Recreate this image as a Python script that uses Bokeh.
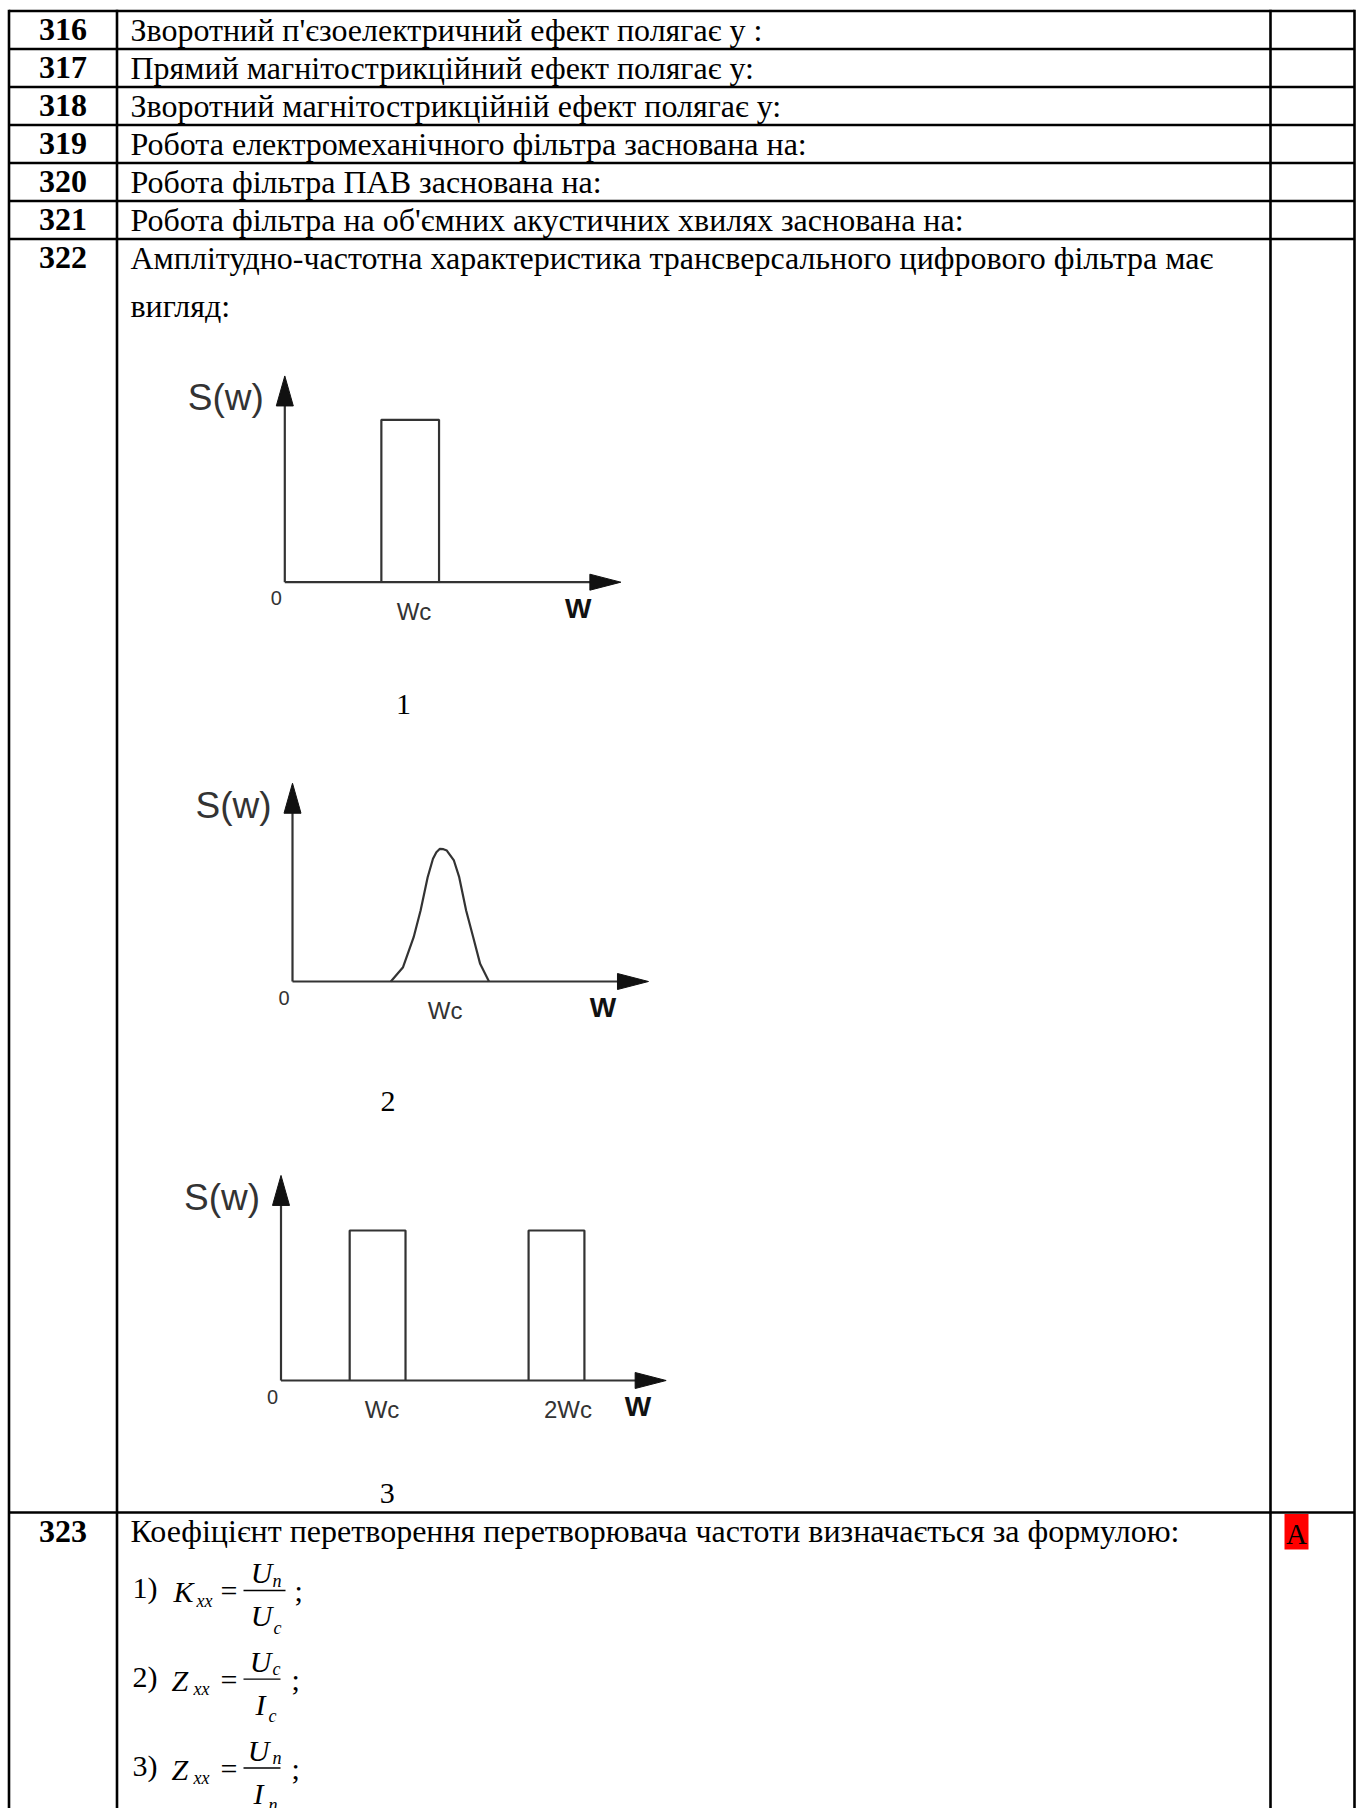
from bokeh.plotting import figure
from bokeh.models import Range1d
from bokeh.embed import file_html
from bokeh.resources import INLINE
from bokeh.core.properties import value

# ---------------- data ----------------
row_numbers = ["316", "317", "318", "319", "320", "321", "322", "323"]
row_texts = [
    "Зворотний п'єзоелектричний ефект полягає у :",
    "Прямий магнітострикційний ефект полягає у:",
    "Зворотний магнітострикційній ефект полягає у:",
    "Робота електромеханічного фільтра заснована на:",
    "Робота фільтра ПАВ заснована на:",
    "Робота фільтра на об'ємних акустичних хвилях заснована на:",
    "Амплітудно-частотна характеристика трансверсального цифрового фільтра має",
    "Коефіцієнт перетворення перетворювача частоти визначається за формулою:",
]
row322_line2 = "вигляд:"
answer_323 = "A"

figure_captions = ["1", "2", "3"]
y_axis_label = "S(w)"
x_axis_label = "W"
origin_label = "0"

# graph 1: one rectangular pass band (w in units of Wc, S normalised)
g1_bands = [(0.77, 1.23)]
g1_tick_labels = ["Wc"]
g1_tick_pos = [1.03]
g1_w_end, g1_s_end, g1_w_label = 2.68, 1.27, 2.34

# graph 2: bell-shaped response
g2_curve_w = [0.667, 0.75, 0.822, 0.869, 0.917, 0.953, 0.976, 1.0, 1.024,
              1.047, 1.095, 1.131, 1.178, 1.226, 1.273, 1.333]
g2_curve_s = [0.0, 0.108, 0.334, 0.535, 0.786, 0.925, 0.974, 1.0, 0.997,
              0.987, 0.912, 0.786, 0.535, 0.334, 0.133, 0.0]
g2_tick_labels = ["Wc"]
g2_tick_pos = [1.035]
g2_w_end, g2_s_end, g2_w_label = 2.415, 1.494, 2.107

# graph 3: two rectangular pass bands
g3_bands = [(0.711, 1.289), (2.563, 3.141)]
g3_tick_labels = ["Wc", "2Wc"]
g3_tick_pos = [1.046, 2.97]
g3_w_end, g3_s_end, g3_w_label = 3.987, 1.367, 3.696

# formulas of question 323
formula_numbers = ["1)", "2)", "3)"]
formula_lhs = ["K", "Z", "Z"]
formula_lhs_sub = ["xx", "xx", "xx"]
formula_num = ["U", "U", "U"]
formula_num_sub = ["n", "c", "n"]
formula_den = ["U", "I", "I"]
formula_den_sub = ["c", "c", "n"]

# ---------------- layout ----------------
SERIF = value("Liberation Serif")
SANS = value("Liberation Sans")
W, H = 1358, 1808
p = figure(width=W, height=H, x_range=Range1d(0, W), y_range=Range1d(H, 0),
           output_backend="svg", toolbar_location=None, min_border=0)
p.axis.visible = False
p.grid.visible = False
p.outline_line_color = None
p.background_fill_color = "white"
p.border_fill_color = "white"

row_edges = [10.5, 48.5, 86.5, 124.5, 162.5, 200.5, 238.5, 1512.0]
col_edges = [8.5, 116.5, 1270.0, 1354.0]
TABLE_BOTTOM = 1830

LW = 2.6
p.segment(x0=[col_edges[0]] * len(row_edges), y0=row_edges,
          x1=[col_edges[-1]] * len(row_edges), y1=row_edges, line_color="black", line_width=LW)
p.segment(x0=col_edges, y0=[row_edges[0] - 1.3] * len(col_edges),
          x1=col_edges, y1=[TABLE_BOTTOM] * len(col_edges), line_color="black", line_width=LW)

BODY = "32px"
num_x = (col_edges[0] + col_edges[1]) / 2
mids = [r + 18.5 for r in row_edges]
p.text(x=[num_x] * len(row_numbers), y=mids, text=row_numbers, text_font=SERIF,
       text_font_size=BODY, text_font_style="bold", text_align="center",
       text_baseline="middle", text_color="black")
p.text(x=[130] * len(row_texts), y=mids, text=row_texts, text_font=SERIF,
       text_font_size=BODY, text_align="left", text_baseline="middle", text_color="black")
p.text(x=[130], y=[mids[6] + 48], text=[row322_line2], text_font=SERIF,
       text_font_size=BODY, text_align="left", text_baseline="middle", text_color="black")

# answer box
p.quad(left=[1284], right=[1308], top=[1513.5], bottom=[1549], fill_color="#ff0000", line_color=None)
p.text(x=[1296], y=[1533], text=[answer_323], text_font=SERIF, text_font_size="29px",
       text_align="center", text_baseline="middle", text_color="black")

GCOL = "#333333"


def graph(origin, uw, us, w_end, s_end, w_label, ticks, tick_pos, caption, cap_xy,
          bands=None, curve_w=None, curve_s=None):
    ox, oy = origin

    def px(w):
        return ox + w * uw

    def py(s):
        return oy - s * us
    xt, yt = px(w_end), py(s_end)
    p.segment(x0=[ox, ox], y0=[oy, oy], x1=[xt - 20, ox], y1=[oy, yt + 20],
              line_color=GCOL, line_width=2.2)
    p.patch([ox, ox - 8.5, ox + 8.5], [yt, yt + 30, yt + 30], fill_color="#111111", line_color="#111111")
    p.patch([xt, xt - 31, xt - 31], [oy, oy - 8, oy + 8], fill_color="#111111", line_color="#111111")
    if bands:
        for a, b in bands:
            p.line([px(a), px(a), px(b), px(b)], [oy, py(1), py(1), oy],
                   line_color=GCOL, line_width=2.2)
    if curve_w:
        p.line([px(w) for w in curve_w], [py(s) for s in curve_s],
               line_color=GCOL, line_width=2.2, line_join="round")
    p.text(x=[ox - 21], y=[yt + 22], text=[y_axis_label], text_font=SANS, text_font_size="37px",
           text_align="right", text_baseline="middle", text_color=GCOL)
    p.text(x=[ox - 8.5], y=[oy + 16], text=[origin_label], text_font=SANS, text_font_size="20px",
           text_align="center", text_baseline="middle", text_color=GCOL)
    p.text(x=[px(t) for t in tick_pos], y=[oy + 29] * len(tick_pos), text=ticks, text_font=SANS,
           text_font_size="24px", text_align="center", text_baseline="middle", text_color=GCOL)
    p.text(x=[px(w_label)], y=[oy + 26], text=[x_axis_label], text_font=SANS, text_font_size="28px",
           text_font_style="bold", text_align="center", text_baseline="middle", text_color="#111111")
    p.text(x=[cap_xy[0]], y=[cap_xy[1]], text=[caption], text_font=SERIF, text_font_size="30px",
           text_align="center", text_baseline="middle", text_color="black")


graph((284.3, 581.7), 125.4, 162.4, g1_w_end, g1_s_end, g1_w_label, g1_tick_labels, g1_tick_pos,
      figure_captions[0], (403, 704), bands=g1_bands)
graph((292.0, 981.0), 147.4, 132.7, g2_w_end, g2_s_end, g2_w_label, g2_tick_labels, g2_tick_pos,
      figure_captions[1], (387.5, 1101), curve_w=g2_curve_w, curve_s=g2_curve_s)
graph((280.5, 1380.0), 96.6, 150.0, g3_w_end, g3_s_end, g3_w_label, g3_tick_labels, g3_tick_pos,
      figure_captions[2], (386.8, 1493), bands=g3_bands)

# formulas
F = "30px"
SUB = "18px"
f_centers = [1590, 1678.6, 1767.5]
f_lhs_x = [173, 171, 171]
f_lhs_sub_x = [196, 193, 193]
f_bar_end = [285, 280, 280]
f_frac_cx = [261, 260, 258]
f_num_sub_x = [272, 272, 272]
f_den_sub_x = [273, 268, 268]
f_semi_x = [294, 291, 291]
for i, yc in enumerate(f_centers):
    txt = dict(text_font=SERIF, text_baseline="middle", text_color="black")
    p.text(x=[132], y=[yc - 3], text=[formula_numbers[i]], text_font_size=F, text_align="left", **txt)
    p.text(x=[f_lhs_x[i]], y=[yc + 1], text=[formula_lhs[i]], text_font_size=F,
           text_font_style="italic", text_align="left", **txt)
    p.text(x=[f_lhs_sub_x[i]], y=[yc + 10], text=[formula_lhs_sub[i]], text_font_size=SUB,
           text_font_style="italic", text_align="left", **txt)
    p.text(x=[220], y=[yc], text=["="], text_font_size=F, text_align="left", **txt)
    p.segment(x0=[243], y0=[yc], x1=[f_bar_end[i]], y1=[yc], line_color="black", line_width=1.3)
    p.text(x=[f_frac_cx[i]] * 2, y=[yc - 18, yc + 25], text=[formula_num[i], formula_den[i]],
           text_font_size=F, text_font_style="italic", text_align="center", **txt)
    p.text(x=[f_num_sub_x[i], f_den_sub_x[i]], y=[yc - 10, yc + 37],
           text=[formula_num_sub[i], formula_den_sub[i]], text_font_size=SUB,
           text_font_style="italic", text_align="left", **txt)
    p.text(x=[f_semi_x[i]], y=[yc], text=[";"], text_font_size=F, text_align="left", **txt)

open("out.html", "w").write(file_html(p, INLINE))
